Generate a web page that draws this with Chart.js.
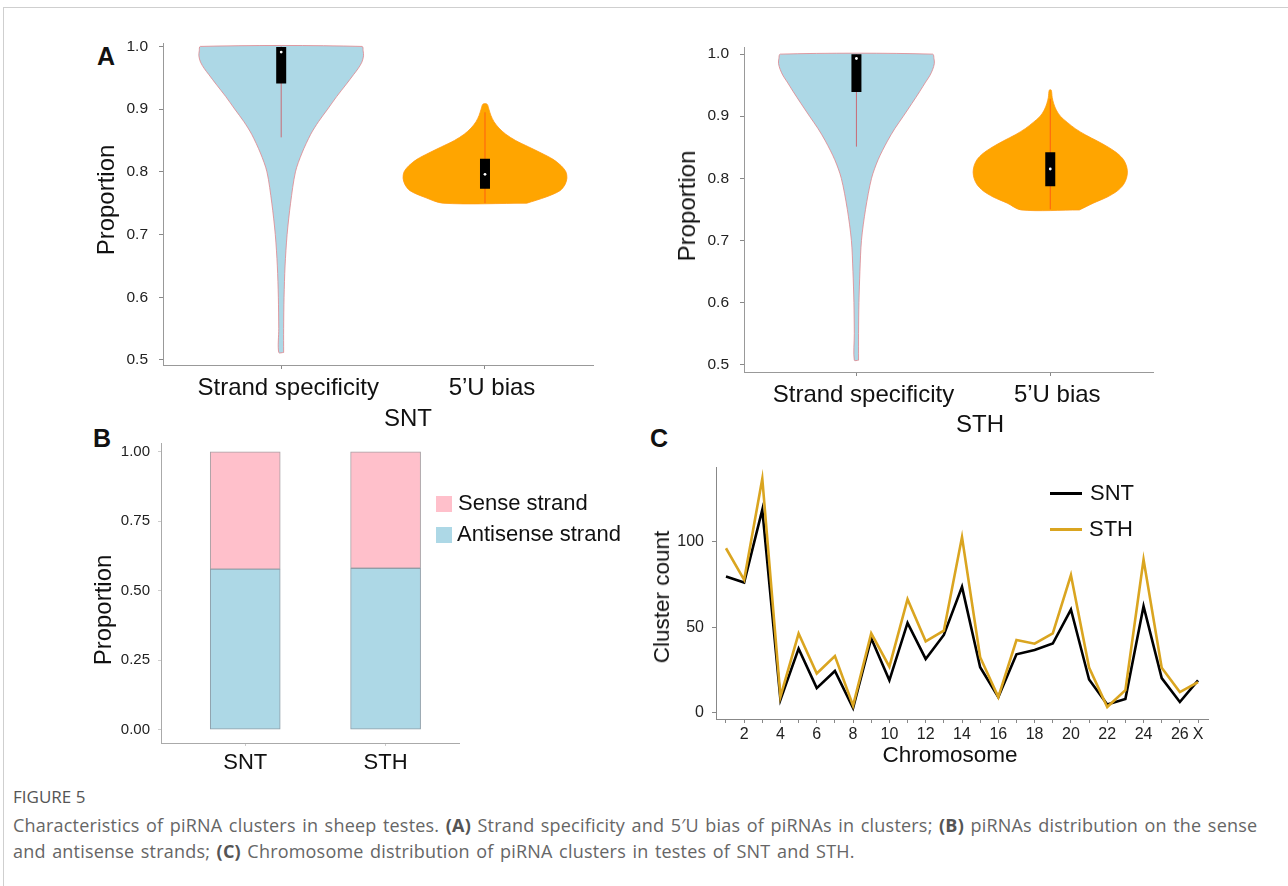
<!DOCTYPE html>
<html>
<head>
<meta charset="utf-8">
<script src="https://cdn.jsdelivr.net/npm/chart.js@4.4.0/dist/chart.umd.min.js"></script>
<style>
  body { margin: 0; background: #fff; }
  #page { position: relative; width: 1288px; height: 886px; overflow: hidden; font-family: "Liberation Sans", Arial, sans-serif; }
  #frame { position: absolute; left: 3px; top: 7px; width: 1300px; height: 900px; border-top: 1px solid #cfcfcf; border-left: 1px solid #cfcfcf; }
  canvas { position: absolute; }
  .t { position: absolute; white-space: nowrap; transform: translate(-50%, -50%); color: #111; }
  .rot { transform: translate(-50%, -50%) rotate(-90deg); }
  .letter { position: absolute; font-weight: bold; font-size: 25px; color: #111; }
  .swatch { position: absolute; }
  .leg { position: absolute; font-size: 22px; color: #111; white-space: nowrap; }
  #caption { position: absolute; left: 13px; top: 785px; width: 1275px; font-family: "Open Sans", sans-serif; color: #666; }
  #caption .head { font-size: 17px; color: #555; }
  #caption .body { font-size: 18px; line-height: 26px; margin-top: 4px; letter-spacing: 0.2px; word-spacing: 1.6px; }
  #caption b { color: #555; }
</style>
</head>
<body>
<div id="page">
  <div id="frame"></div>

  <div class="letter" style="left:97px; top:42px;">A</div>
  <div class="letter" style="left:93px; top:424px;">B</div>
  <div class="letter" style="left:650px; top:424px;">C</div>

  <canvas id="violinSNT" width="484" height="382" style="left:113px; top:23px;"></canvas>
  <canvas id="violinSTH" width="463" height="385" style="left:694px; top:27px;"></canvas>
  <canvas id="barChart" width="349" height="357" style="left:111px; top:426px;"></canvas>
  <canvas id="lineChart" width="548" height="305" style="left:666px; top:450px;"></canvas>

  <div class="t rot" style="left:106px; top:200px; font-size:24px;">Proportion</div>
  <div class="t rot" style="left:687px; top:206px; font-size:24px;">Proportion</div>
  <div class="t rot" style="left:103px; top:610px; font-size:24px;">Proportion</div>
  <div class="t rot" style="left:662px; top:597px; font-size:22.5px;">Cluster count</div>

  <div class="t" style="left:408px; top:418px; font-size:24px;">SNT</div>
  <div class="t" style="left:980px; top:424px; font-size:24px;">STH</div>
  <div class="t" style="left:950px; top:755px; font-size:22.5px;">Chromosome</div>

  <div class="swatch" style="left:436px; top:496px; width:16px; height:16px; background:#ffc0cb;"></div>
  <div class="leg" style="left:458px; top:490px;">Sense strand</div>
  <div class="swatch" style="left:436px; top:527px; width:16px; height:16px; background:#add8e6;"></div>
  <div class="leg" style="left:457px; top:521px;">Antisense strand</div>

  <div class="swatch" style="left:1050px; top:492px; width:32px; height:3px; background:#000;"></div>
  <div class="leg" style="left:1090px; top:480px;">SNT</div>
  <div class="swatch" style="left:1050px; top:528px; width:32px; height:3px; background:#daa520;"></div>
  <div class="leg" style="left:1089px; top:516px;">STH</div>

  <div id="caption">
    <div class="head">FIGURE 5</div>
    <div class="body">Characteristics of piRNA clusters in sheep testes. <b>(A)</b> Strand specificity and 5′U bias of piRNAs in clusters; <b>(B)</b> piRNAs distribution on the sense<br>and antisense strands; <b>(C)</b> Chromosome distribution of piRNA clusters in testes of SNT and STH.</div>
  </div>
</div>

<script>
//================= Data =================//
var violinCategories = ['Strand specificity', '5’U bias'];

// violin outlines: proportion levels and half widths (in category units)
var sntStrandLevels = [0.512, 0.55, 0.60, 0.65, 0.70, 0.75, 0.80, 0.83, 0.86, 0.88, 0.90, 0.92, 0.94, 0.955, 0.965, 0.975, 0.985, 0.993, 1.0];
var sntStrandWidths = [0.012, 0.012, 0.014, 0.019, 0.029, 0.046, 0.070, 0.102, 0.145, 0.183, 0.228, 0.272, 0.320, 0.355, 0.378, 0.396, 0.404, 0.402, 0.397];
var sntBiasLevels = [0.75, 0.76, 0.77, 0.78, 0.79, 0.80, 0.81, 0.82, 0.83, 0.84, 0.85, 0.86, 0.87, 0.88, 0.89, 0.90, 0.908];
var sntBiasWidths = [0.205, 0.30, 0.368, 0.393, 0.402, 0.397, 0.373, 0.334, 0.276, 0.213, 0.150, 0.102, 0.068, 0.044, 0.029, 0.019, 0.010];

var sthStrandLevels = [0.507, 0.55, 0.60, 0.65, 0.70, 0.75, 0.80, 0.83, 0.86, 0.88, 0.90, 0.92, 0.94, 0.955, 0.965, 0.975, 0.985, 0.993, 1.0];
var sthStrandWidths = [0.011, 0.011, 0.013, 0.018, 0.026, 0.047, 0.078, 0.112, 0.160, 0.198, 0.242, 0.285, 0.327, 0.357, 0.378, 0.393, 0.402, 0.400, 0.393];
var sthBiasLevels = [0.749, 0.76, 0.77, 0.78, 0.79, 0.80, 0.81, 0.82, 0.83, 0.84, 0.85, 0.86, 0.87, 0.88, 0.89, 0.90, 0.91, 0.92, 0.93, 0.942];
var sthBiasWidths = [0.150, 0.222, 0.295, 0.347, 0.378, 0.393, 0.398, 0.393, 0.378, 0.347, 0.300, 0.243, 0.181, 0.129, 0.088, 0.052, 0.031, 0.018, 0.010, 0.005];

// box stats per category [strand specificity, 5'U bias]
var sntQ1 = [0.941, 0.773];
var sntQ3 = [0.999, 0.821];
var sntMedian = [0.991, 0.796];
var sntWhiskerLow = [0.855, 0.75];
var sntWhiskerHigh = [1.0, 0.895];

var sthQ1 = [0.939, 0.787];
var sthQ3 = [1.0, 0.842];
var sthMedian = [0.993, 0.815];
var sthWhiskerLow = [0.851, 0.75];
var sthWhiskerHigh = [1.0, 0.928];

var proportionTicks = [0.5, 0.6, 0.7, 0.8, 0.9, 1.0];

// panel B
var groups = ['SNT', 'STH'];
var antisenseShare = [0.578, 0.581];
var senseShare = [0.422, 0.419];
var shareTicks = [0, 0.25, 0.5, 0.75, 1.0];

// panel C
var chromosomes = ['1','2','3','4','5','6','7','8','9','10','11','12','13','14','15','16','17','18','19','20','21','22','23','24','25','26','X'];
var sntClusters = [79.5, 76, 118.5, 7.7, 37.5, 14.5, 24.5, 2.9, 43.5, 19, 52.5, 31.5, 45.5, 73.5, 26.7, 9.3, 34.2, 36.7, 40.5, 60.3, 19.5, 5, 8.2, 62.2, 20.3, 6.4, 19];
var sthClusters = [96, 77.6, 136.5, 9.6, 46.3, 23, 33.2, 4.3, 46.4, 27, 66.3, 41.8, 48, 102.5, 32.5, 9.3, 42.5, 40.4, 46.4, 80.4, 26.5, 3.5, 13.3, 89.4, 26.4, 12.2, 18];
var countTicks = [0, 50, 100];

//================= Setup =================//
Chart.defaults.font.family = '"Liberation Sans", Arial, sans-serif';
Chart.defaults.color = '#222';
Chart.defaults.animation = false;
Chart.defaults.plugins.legend.display = false;
Chart.defaults.plugins.tooltip.enabled = false;

function fixedTicks(values){
  return function(scale){
    scale.ticks = values.map(function(v){ return {value: v}; });
  };
}

function axisGrid(){
  return {display: true, drawOnChartArea: false, drawTicks: true, tickLength: 4, color: '#888', offset: false};
}

function violinOutline(center, levels, widths){
  var pts = [];
  for (var i = 0; i < levels.length; i++){
    pts.push({x: center + widths[i], y: levels[i]});
  }
  for (var j = levels.length - 1; j >= 0; j--){
    pts.push({x: center - widths[j], y: levels[j]});
  }
  pts.push(pts[0]);
  return pts;
}

var violinFill = ['#add8e6', '#ffa500'];
var violinEdge = ['#e0848c', '#ff9a10'];
var whiskerColor = ['#c86c76', '#ff5e10'];

function violinChart(id, shapes, q1, q3, med, lo, hi, yMin, yMax){
  var datasets = [];
  for (var i = 0; i < shapes.length; i++){
    var c = i + 1;
    datasets.push({
      data: violinOutline(c, shapes[i][0], shapes[i][1]),
      showLine: true, fill: 'shape', tension: 0.3,
      backgroundColor: violinFill[i], borderColor: violinEdge[i], borderWidth: 0.8,
      pointRadius: 0, order: 4
    });
    datasets.push({
      data: [{x: c, y: lo[i]}, {x: c, y: hi[i]}],
      showLine: true, borderColor: whiskerColor[i], borderWidth: 1, pointRadius: 0, order: 3
    });
    datasets.push({
      data: [{x: c, y: q1[i]}, {x: c, y: q3[i]}],
      showLine: true, borderColor: '#000', borderWidth: 10, borderCapStyle: 'butt', pointRadius: 0, order: 2
    });
    datasets.push({
      data: [{x: c, y: med[i]}],
      pointRadius: 1.4, pointBackgroundColor: '#fff', pointBorderWidth: 0, order: 1
    });
  }
  return new Chart(document.getElementById(id), {
    type: 'scatter',
    data: {datasets: datasets},
    options: {
      responsive: false, devicePixelRatio: 1,
      layout: {padding: 0},
      scales: {
        x: {
          type: 'linear', min: 0.42, max: 2.53,
          afterBuildTicks: fixedTicks([1, 2]),
          afterFit: function(s){ s.height = 40; },
          grid: axisGrid(), border: {color: '#999'},
          ticks: {font: {size: 24}, color: '#111', padding: 5, labelOffset: 7,
            callback: function(v){ return violinCategories[v - 1]; }}
        },
        y: {
          min: yMin, max: yMax,
          afterBuildTicks: fixedTicks(proportionTicks),
          afterFit: function(s){ s.width = 50; },
          grid: axisGrid(), border: {color: '#999'},
          ticks: {font: {size: 15.5}, padding: 11, callback: function(v){ return v.toFixed(1); }}
        }
      }
    }
  });
}

violinChart('violinSNT',
  [[sntStrandLevels, sntStrandWidths], [sntBiasLevels, sntBiasWidths]],
  sntQ1, sntQ3, sntMedian, sntWhiskerLow, sntWhiskerHigh, 0.492, 1.005);

violinChart('violinSTH',
  [[sthStrandLevels, sthStrandWidths], [sthBiasLevels, sthBiasWidths]],
  sthQ1, sthQ3, sthMedian, sthWhiskerLow, sthWhiskerHigh, 0.488, 1.011);

//================= Panel B =================//
new Chart(document.getElementById('barChart'), {
  type: 'bar',
  data: {
    datasets: [{
      label: 'Antisense strand',
      data: groups.map(function(g, i){ return {x: i + 1, y: antisenseShare[i]}; }),
      backgroundColor: '#add8e6', borderColor: '#8e9ea8', borderWidth: 1, borderSkipped: false, barThickness: 70
    }, {
      label: 'Sense strand',
      data: groups.map(function(g, i){ return {x: i + 1, y: senseShare[i]}; }),
      backgroundColor: '#ffc0cb', borderColor: '#a8a0a4', borderWidth: 1, borderSkipped: false, barThickness: 70
    }]
  },
  options: {
    responsive: false, devicePixelRatio: 1,
    layout: {padding: 0},
    scales: {
      x: {
        type: 'linear', stacked: true, offset: false, min: 0.4, max: 2.53,
        afterBuildTicks: fixedTicks([1, 2]),
        afterFit: function(s){ s.height = 40; },
        grid: {display: true, drawOnChartArea: false, drawTicks: true, tickLength: 3, color: '#ccc', offset: false},
        border: {color: '#aaa'},
        ticks: {font: {size: 22}, color: '#111', padding: 4, callback: function(v){ return groups[v - 1]; }}
      },
      y: {
        stacked: true, min: -0.048, max: 1.032,
        afterBuildTicks: fixedTicks(shareTicks),
        afterFit: function(s){ s.width = 50; },
        grid: {display: true, drawOnChartArea: false, drawTicks: true, tickLength: 3, color: '#ccc'},
        border: {color: '#aaa'},
        ticks: {font: {size: 15}, padding: 8, callback: function(v){ return v.toFixed(2); }}
      }
    }
  }
});

//================= Panel C =================//
var chromIndex = chromosomes.map(function(c, i){ return i + 1; });

new Chart(document.getElementById('lineChart'), {
  type: 'line',
  data: {
    datasets: [{
      label: 'STH',
      data: chromIndex.map(function(x, i){ return {x: x, y: sthClusters[i]}; }),
      borderColor: '#daa520', borderWidth: 2.6, pointRadius: 0, tension: 0, order: 1
    }, {
      label: 'SNT',
      data: chromIndex.map(function(x, i){ return {x: x, y: sntClusters[i]}; }),
      borderColor: '#000', borderWidth: 2.6, pointRadius: 0, tension: 0, order: 2
    }]
  },
  options: {
    responsive: false, devicePixelRatio: 1,
    layout: {padding: {top: 0, right: 6, left: 0, bottom: 0}},
    scales: {
      x: {
        type: 'linear', min: 0.45, max: 27.55,
        afterBuildTicks: fixedTicks(chromIndex),
        afterFit: function(s){ s.height = 36; },
        grid: axisGrid(), border: {color: '#888'},
        ticks: {font: {size: 16}, padding: 2, autoSkip: false, maxRotation: 0,
          callback: function(v){
            var name = chromosomes[v - 1];
            return (v % 2 === 0 || name === 'X') ? name : '';
          }}
      },
      y: {
        min: -3.5, max: 143,
        afterBuildTicks: fixedTicks(countTicks),
        afterFit: function(s){ s.width = 50; },
        grid: axisGrid(), border: {color: '#888'},
        ticks: {font: {size: 16}, padding: 8}
      }
    }
  }
});
</script>
</body>
</html>
